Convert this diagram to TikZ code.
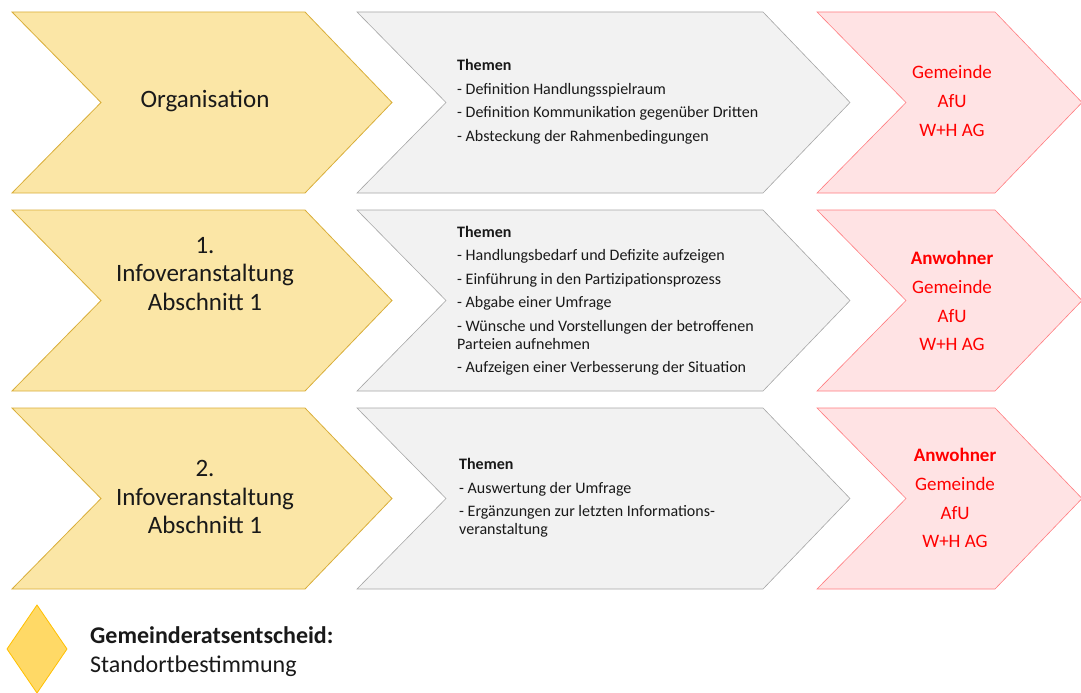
\documentclass[tikz,border=0pt]{standalone}
\usepackage{fontspec}
\setmainfont{Carlito}
\usetikzlibrary{calc}
\definecolor{gelb}{HTML}{FBE6A6}
\definecolor{gelbrand}{HTML}{D9AE3A}
\definecolor{grau}{HTML}{F2F2F2}
\definecolor{graurand}{HTML}{A6A6A6}
\definecolor{rosa}{HTML}{FFE3E4}
\definecolor{rosarand}{HTML}{FF7C80}
\definecolor{rot}{HTML}{FF0000}
\definecolor{raute}{HTML}{FFD966}
\definecolor{rauterand}{HTML}{FFC000}
\def\chevron[#1](#2:#3:#4){\draw[#1] (#2,#4) -- (#3,#4) -- ++(87,90.5) -- ++(-87,90.5) -- (#2,#4+181) -- ++(89,-90.5) -- cycle;}

\begin{document}
\begin{tikzpicture}[x=1pt, y=-1pt,
	gelbtext/.style={font=\fontsize{25}{28.5}\selectfont, align=center, text=black!90, inner sep=0},
	themen/.style={font=\fontsize{16}{18}\selectfont, align=left, anchor=west, text=black!90, inner sep=0},
	rottext/.style={font=\fontsize{19}{28.8}\selectfont, align=center, text=rot, inner sep=0}]
			%%%%% START %%%%%
			\useasboundingbox (0,0) rectangle (1081,693);
			
			\chevron[fill=gelb, draw=gelbrand, line width=0.8pt](12:305:12)
			\chevron[fill=gelb, draw=gelbrand, line width=0.8pt](12:305:210)
			\chevron[fill=gelb, draw=gelbrand, line width=0.8pt](12:305:408)
			
			\chevron[fill=grau, draw=graurand, line width=0.6pt](357:763:12)
			\chevron[fill=grau, draw=graurand, line width=0.6pt](357:763:210)
			\chevron[fill=grau, draw=graurand, line width=0.6pt](357:763:408)
			
			\chevron[fill=rosa, draw=rosarand, line width=0.6pt](817:995:12)
			\chevron[fill=rosa, draw=rosarand, line width=0.6pt](817:995:210)
			\chevron[fill=rosa, draw=rosarand, line width=0.6pt](817:995:408)
			
			\node[gelbtext] (org) at (205,101) {Organisation};
			\node[gelbtext] (info1) at (205,274) {1.\\Infoveranstaltung\\Abschnitt 1};
			\node[gelbtext] (info2) at (205,497) {2.\\Infoveranstaltung\\Abschnitt 1};
			
			\node[themen] (themen1) at (457,102) {\textbf{Themen}\\[5.5pt]
				- Definition Handlungsspielraum\\[5.5pt]
				- Definition Kommunikation gegenüber Dritten\\[5.5pt]
				- Absteckung der Rahmenbedingungen};
			\node[themen] (themen2) at (457,301) {\textbf{Themen}\\[5.5pt]
				- Handlungsbedarf und Defizite aufzeigen\\[5.5pt]
				- Einführung in den Partizipationsprozess\\[5.5pt]
				- Abgabe einer Umfrage\\[5.5pt]
				- Wünsche und Vorstellungen der betroffenen\\Parteien aufnehmen\\[5.5pt]
				- Aufzeigen einer Verbesserung der Situation};
			\node[themen] (themen3) at (459,498) {\textbf{Themen}\\[5.5pt]
				- Auswertung der Umfrage\\[5.5pt]
				- Ergänzungen zur letzten Informations-\\veranstaltung};
			
			\node[rottext] (akteure1) at (952,101) {Gemeinde\\AfU\\W+H AG};
			\node[rottext] (akteure2) at (952,301) {\textbf{Anwohner}\\Gemeinde\\AfU\\W+H AG};
			\node[rottext] (akteure3) at (955,498) {\textbf{Anwohner}\\Gemeinde\\AfU\\W+H AG};
			
			\draw[fill=raute, draw=rauterand, line width=0.8pt] (37,605) -- (67,649) -- (37,693) -- (7,649) -- cycle;
			\node[font=\fontsize{24}{29}\selectfont, align=left, anchor=west, inner sep=0, text=black!90] (entscheid) at (90,652) {\textbf{Gemeinderatsentscheid:}\\Standortbestimmung};
			
			%%%%% END %%%%%
\end{tikzpicture}
\end{document}
